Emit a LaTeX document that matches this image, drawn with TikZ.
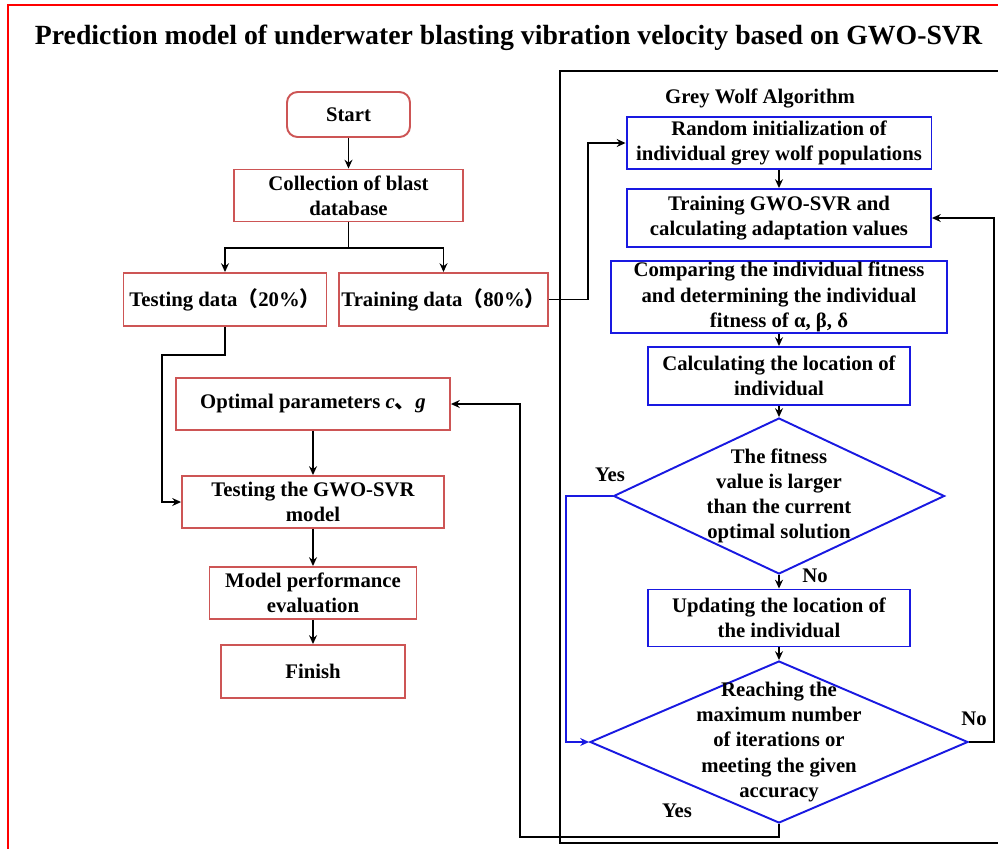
\documentclass[tikz,border=0pt]{standalone}
\usepackage{fontspec}
\setmainfont{Liberation Serif}
\newfontfamily\cjk{Noto Sans CJK SC}
\usetikzlibrary{shapes.geometric, arrows.meta, positioning}
\definecolor{boxred}{RGB}{205,85,85}
\definecolor{boxblue}{RGB}{25,25,225}
\tikzset{
    redbox/.style={draw=boxred, line width=1.1pt, minimum height=1.04cm, inner sep=0pt},
    bluebox/.style={draw=boxblue, line width=1.1pt, inner sep=0pt},
    decision/.style={diamond, draw=boxblue, line width=1.1pt, inner sep=0pt},
    flow/.style={->, line width=1.1pt},
}

\begin{document}
\begin{tikzpicture}[x=0.02cm, y=-0.02cm, >={Stealth[length=5pt,width=4.5pt]}, font=\fontsize{11.8}{14.3}\selectfont\bfseries, every node/.style={align=center}]
    \useasboundingbox (0,0) rectangle (998,849);
    \draw[red, line width=1.1pt] (8,849) -- (8,5) -- (998,5);
    \draw[line width=1.4pt] (998,71) -- (560,71) -- (560,843) -- (998,843);

    \node[font=\fontsize{15.8}{18}\selectfont\bfseries, anchor=base] (title) at ({508.5},{44}) {Prediction model of underwater blasting vibration velocity based on GWO-SVR};

    % left column
    \node[redbox, rounded corners=6pt, minimum width=2.46cm, minimum height=0.9cm] (start) at ({348.5},{114.5}) {Start};
    \node[redbox, minimum width=4.58cm] (collect) at ({348.5},{195.5}) {Collection of blast\\database};
    \node[redbox, minimum width=4.06cm, minimum height=1.06cm] (testdat) at ({225},{299.5}) {Testing data{\cjk （}20\%{\cjk ）}};
    \node[redbox, minimum width=4.18cm, minimum height=1.06cm] (traindat) at ({443.5},{299.5}) {Training data{\cjk （}80\%{\cjk ）}};
    \node[redbox, minimum width=5.48cm] (opt) at ({313},{404}) {Optimal parameters \textit{c}{\cjk 、}\textit{g}};
    \node[redbox, minimum width=5.24cm] (testmod) at ({313},{502}) {Testing the GWO-SVR\\model};
    \node[redbox, minimum width=4.14cm] (perf) at ({313},{593}) {Model performance\\evaluation};
    \node[redbox, minimum width=3.68cm, minimum height=1.06cm] (finish) at ({313},{671.5}) {Finish};

    % grey wolf column
    \node (gwa) at ({760},{98}) {Grey Wolf Algorithm};
    \node[bluebox, minimum width=6.1cm, minimum height=1.04cm] (rinit) at ({779},{143}) {Random initialization of\\individual grey wolf populations};
    \node[bluebox, minimum width=6.08cm, minimum height=1.16cm] (trgwo) at ({779},{218}) {Training GWO-SVR and\\calculating adaptation values};
    \node[bluebox, minimum width=6.72cm, minimum height=1.44cm] (comp) at ({779},{297}) {Comparing the individual fitness\\and determining the individual\\fitness of α, β, δ};
    \node[bluebox, minimum width=5.24cm, minimum height=1.16cm] (calcloc) at ({779},{376}) {Calculating the location of\\individual};
    \node[decision, minimum width=6.62cm, minimum height=3.12cm] (d1) at ({779},{496}) {};
    \node (d1txt) at (d1) {The fitness\\value is larger\\than the current\\optimal solution};
    \node[bluebox, minimum width=5.24cm, minimum height=1.14cm] (update) at ({779},{618}) {Updating the location of\\the individual};
    \node[decision, minimum width=7.56cm, minimum height=3.24cm] (d2) at ({779},{742}) {};
    \node (d2txt) at (d2) {Reaching the\\maximum number\\of iterations or\\meeting the given\\accuracy};

    \node (yes1) at ({610},{475}) {Yes};
    \node (no1) at ({815},{576}) {No};
    \node (no2) at ({974},{719}) {No};
    \node (yes2) at ({677},{811}) {Yes};

    % connectors
    \coordinate (split) at ({348.5},{248});
    \draw[flow] (start) -- (collect);
    \draw[line width=1.1pt] (collect) -- (split);
    \draw[flow] (split) -| (testdat);
    \draw[flow] (split) -| (traindat);
    \draw[flow] (traindat.east) -- ++(39,0) |- (rinit.west);
    \draw[flow] (testdat.south) |- ++(-63,28) |- (testmod.west);
    \draw[flow] (opt) -- (testmod);
    \draw[flow] (testmod) -- (perf);
    \draw[flow] (perf) -- (finish);

    \draw[flow] (rinit) -- (trgwo);
    \draw[flow] (comp) -- (calcloc);
    \draw[flow] (calcloc) -- (d1);
    \draw[flow] (d1) -- (update);
    \draw[flow] (update) -- (d2);
    \draw[flow, boxblue] (d1.west) -- ++(-47,0) |- (d2.west);
    \draw[flow] (d2.east) -- ++(25,0) |- (trgwo.east);
    \draw[flow] (d2.south) |- ++(-259,13) |- (opt.east);
\end{tikzpicture}
\end{document}
